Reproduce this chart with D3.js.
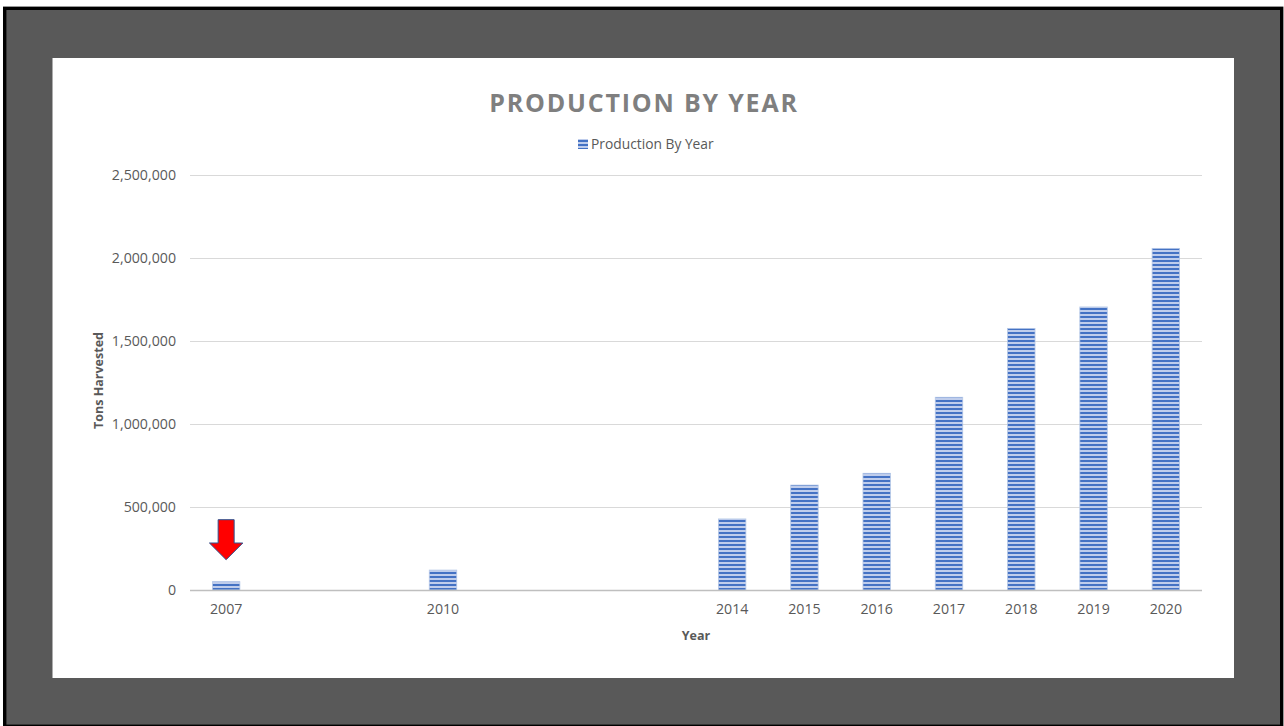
<!DOCTYPE html>
<html>
<head>
<meta charset="utf-8">
<script src="https://cdn.jsdelivr.net/npm/d3@7/dist/d3.min.js"></script>
<style>
  html, body { margin: 0; padding: 0; background: #ffffff; }
  svg { display: block; }
</style>
</head>
<body>
<svg id="chart" width="1284" height="726"></svg>
<script>
// ---- data ----
const axisYears = [2007, 2008, 2009, 2010, 2011, 2012, 2013, 2014, 2015, 2016, 2017, 2018, 2019, 2020];
const years = [2007, 2010, 2014, 2015, 2016, 2017, 2018, 2019, 2020];
const tons = [50000, 120000, 428000, 632000, 703000, 1161000, 1576000, 1705000, 2058000];
const yTicks = [0, 500000, 1000000, 1500000, 2000000, 2500000];
const titleText = "PRODUCTION BY YEAR";
const seriesName = "Production By Year";
const xTitle = "Year";
const yTitle = "Tons Harvested";

const svg = d3.select("#chart");
const font = "'Open Sans', 'DejaVu Sans', sans-serif";

// outer frame
svg.append("rect").attr("x", 4.7).attr("y", 8.3).attr("width", 1277).attr("height", 718)
  .attr("fill", "#595959").attr("stroke", "#000").attr("stroke-width", 3.4);
// white chart area
svg.append("rect").attr("x", 52.5).attr("y", 58).attr("width", 1181.5).attr("height", 620)
  .attr("fill", "#ffffff");

// pattern
const defs = svg.append("defs");
const pat = defs.append("pattern").attr("id", "hstripe").attr("patternUnits", "userSpaceOnUse")
  .attr("width", 8).attr("height", 4);
pat.append("rect").attr("width", 8).attr("height", 4).attr("fill", "#bfcdec");
pat.append("rect").attr("y", 0).attr("width", 8).attr("height", 2).attr("fill", "#4472c4");

const plot = { left: 190, right: 1202, top: 175, bottom: 590 };

const x = d3.scaleBand().domain(axisYears).range([plot.left, plot.right])
  .paddingInner(0.62).paddingOuter(0.31);
const y = d3.scaleLinear().domain([0, 2500000]).range([plot.bottom, plot.top]);

// gridlines
svg.append("g").selectAll("line").data(yTicks.filter(d => d > 0)).join("line")
  .attr("x1", plot.left).attr("x2", plot.right)
  .attr("y1", d => y(d) + 0.5).attr("y2", d => y(d) + 0.5)
  .attr("stroke", "#d9d9d9").attr("stroke-width", 1);

// y axis labels
const yAxis = d3.axisLeft(y).tickValues(yTicks).tickFormat(d3.format(",")).tickSize(0).tickPadding(14);
const gy = svg.append("g").attr("transform", `translate(${plot.left},0)`).call(yAxis);
gy.select(".domain").remove();
gy.selectAll("text").attr("font-family", font).attr("font-size", "14.2px").attr("fill", "#595959");

// bars
const data = years.map((yr, i) => ({ year: yr, value: tons[i] }));
svg.append("g").selectAll("rect").data(data).join("rect")
  .attr("x", d => x(d.year))
  .attr("y", d => y(d.value))
  .attr("width", x.bandwidth())
  .attr("height", d => y(0) - y(d.value))
  .attr("fill", "url(#hstripe)")
  .attr("stroke", "#b4c7e7").attr("stroke-width", 0.8);

// x axis
const xAxis = d3.axisBottom(x).tickValues(years).tickSize(0).tickPadding(14);
const gx = svg.append("g").attr("transform", `translate(0,${plot.bottom})`).call(xAxis);
gx.select(".domain").attr("stroke", "#bfbfbf").attr("stroke-width", 1.3)
  .attr("d", `M${plot.left},0.5H${plot.right}`);
gx.selectAll("text").attr("font-family", font).attr("font-size", "14.2px").attr("fill", "#595959");

// title
svg.append("text").attr("x", 644).attr("y", 112).attr("text-anchor", "middle")
  .attr("font-family", font).attr("font-weight", "bold").attr("font-size", "25px")
  .attr("letter-spacing", "1.8px").attr("fill", "#7f7f7f").text(titleText);

// legend
svg.append("rect").attr("x", 578).attr("y", 139).attr("width", 10).attr("height", 10)
  .attr("fill", "url(#hstripe)");
svg.append("text").attr("x", 591).attr("y", 149)
  .attr("font-family", font).attr("font-size", "13.8px").attr("fill", "#595959").text(seriesName);

// axis titles
svg.append("text").attr("x", (plot.left + plot.right) / 2).attr("y", 640).attr("text-anchor", "middle")
  .attr("font-family", font).attr("font-weight", "bold").attr("font-size", "12.5px")
  .attr("fill", "#595959").text(xTitle);
svg.append("text").attr("transform", `translate(103,${(plot.top + plot.bottom) / 2 - 2}) rotate(-90)`)
  .attr("text-anchor", "middle")
  .attr("font-family", font).attr("font-weight", "bold").attr("font-size", "12.5px")
  .attr("fill", "#595959").text(yTitle);

// red arrow annotation pointing at the 2007 bar
const cx = x(years[0]) + x.bandwidth() / 2;
const tipY = y(tons[0]) - 22;
const topY = tipY - 40, headY = tipY - 16.7;
const arrow = d3.path();
arrow.moveTo(cx - 8, topY);
arrow.lineTo(cx + 8, topY);
arrow.lineTo(cx + 8, headY);
arrow.lineTo(cx + 16.7, headY);
arrow.lineTo(cx, tipY);
arrow.lineTo(cx - 16.7, headY);
arrow.lineTo(cx - 8, headY);
arrow.closePath();
svg.append("path").attr("d", arrow.toString()).attr("fill", "#ff0000")
  .attr("stroke", "#2f528f").attr("stroke-width", 1);
</script>
</body>
</html>
